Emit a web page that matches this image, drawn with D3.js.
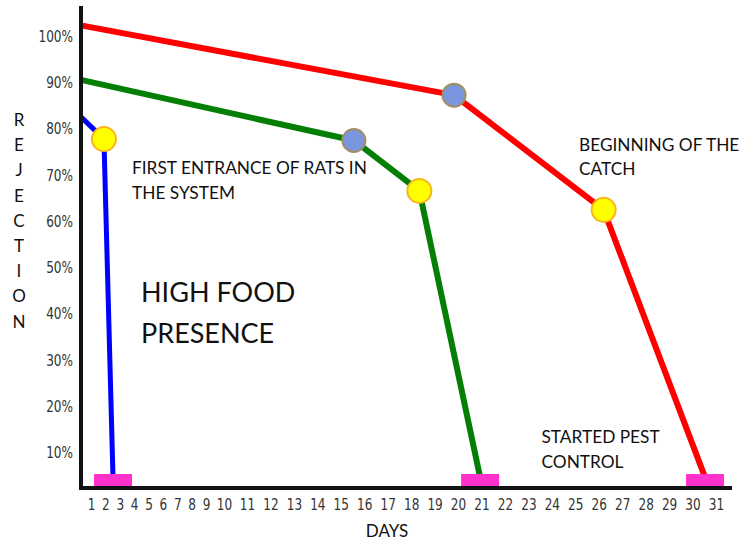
<!DOCTYPE html>
<html>
<head>
<meta charset="utf-8">
<script src="https://cdn.jsdelivr.net/npm/d3@7"></script>
<style>
  html, body { margin: 0; padding: 0; background: #fff; }
  svg { display: block; }
</style>
</head>
<body>
<svg id="chart" width="740" height="540"></svg>
<script>
// ---------- data ----------
const days = d3.range(1, 32);                       // x tick labels 1..31
const yTicks = [10, 20, 30, 40, 50, 60, 70, 80, 90, 100];

// three series: [day, rejection %]
const redSeries   = [[0.3, 102.2], [19.83, 87.1], [26.21, 62.3], [30.53, 4.5]];
const greenSeries = [[0.3, 90.4],  [15.56, 77.3], [18.35, 66.4], [20.94, 4.5]];
const blueSeries  = [[0.3, 82.4],  [1.9, 77.6],   [2.53, 4.5]];

// markers: blue = rats enter, yellow = catch begins
const blueMarkers   = [[19.83, 87.1], [15.56, 77.3]];
const yellowMarkers = [[26.21, 62.3], [18.35, 66.4], [1.9, 77.6]];
// pest control start (pink bars) at days
const pestControlDays = [2.53, 20.94, 30.53];

const annotations = [
  { lines: ["FIRST ENTRANCE OF RATS IN", "THE SYSTEM"], big: false, anchor: [132, 174] },
  { lines: ["BEGINNING OF THE", "CATCH"], big: false, anchor: [579, 150.5] },
  { lines: ["STARTED PEST", "CONTROL"], big: false, anchor: [541.5, 443] },
  { lines: ["HIGH FOOD", "PRESENCE"], big: true, anchor: [141, 302] }
];
const yTitle = "REJECTION";
const xTitle = "DAYS";

// ---------- scales ----------
// labels of the x axis are packed (single digits narrower than double digits)
const x = d3.scaleLinear().domain([1, 9, 10, 11, 31]).range([91, 206, 224, 247, 716]);
const y = d3.scaleLinear().domain([0, 100]).range([498, 35.5]);

const svg = d3.select("#chart");
const axisX = 81, axisY = 488;

// ---------- lines ----------
const line = d3.line().x(d => x(d[0])).y(d => y(d[1]));
const series = [
  { data: redSeries, color: "#ff0000", w: 6 },
  { data: greenSeries, color: "#038003", w: 6 },
  { data: blueSeries, color: "#0000ff", w: 5 }
];
svg.append("g").selectAll("path").data(series).join("path")
  .attr("d", d => line(d.data))
  .attr("fill", "none")
  .attr("stroke", d => d.color)
  .attr("stroke-width", d => d.w)
  .attr("stroke-linejoin", "round");

// lines start at the axis: mask whatever falls left of it
svg.append("rect").attr("x", 0).attr("y", 0).attr("width", axisX).attr("height", 500).attr("fill", "#fff");

// ---------- pink bars ----------
svg.append("g").selectAll("rect").data(pestControlDays).join("rect")
  .attr("x", d => x(d) - 19)
  .attr("y", axisY - 14)
  .attr("width", 38)
  .attr("height", 12)
  .attr("fill", "#ff33cc");

// ---------- axes ----------
svg.append("line").attr("x1", axisX).attr("x2", axisX).attr("y1", 6).attr("y2", axisY + 2)
  .attr("stroke", "#111").attr("stroke-width", 4);
svg.append("line").attr("x1", axisX - 2).attr("x2", 732).attr("y1", axisY).attr("y2", axisY)
  .attr("stroke", "#111").attr("stroke-width", 4);

const tickFont = "'DejaVu Sans Condensed', 'DejaVu Sans', sans-serif";
const squeeze = 0.84;

const yAxis = svg.append("g").attr("transform", `translate(${axisX},0)`)
  .call(d3.axisLeft(y).tickValues(yTicks).tickSize(0).tickPadding(8).tickFormat(d => d + "%"));
yAxis.select(".domain").remove();
yAxis.selectAll("text")
  .attr("x", 0)
  .attr("transform", `translate(-8,0) scale(${squeeze},1)`)
  .attr("font-family", tickFont)
  .attr("font-size", 16).attr("fill", "#333").attr("dy", "0.36em");

const xAxis = svg.append("g").attr("transform", `translate(0,${axisY})`)
  .call(d3.axisBottom(x).tickValues(days).tickSize(0).tickPadding(11).tickFormat(d3.format("d")));
xAxis.select(".domain").remove();
xAxis.selectAll("text")
  .attr("transform", `scale(${squeeze},1)`)
  .attr("font-family", tickFont)
  .attr("font-size", 16).attr("fill", "#333");

// ---------- markers ----------
svg.append("g").selectAll("circle").data(blueMarkers).join("circle")
  .attr("cx", d => x(d[0])).attr("cy", d => y(d[1])).attr("r", 11.5)
  .attr("fill", "#7a96de").attr("stroke", "#a28f62").attr("stroke-width", 2);
svg.append("g").selectAll("circle").data(yellowMarkers).join("circle")
  .attr("cx", d => x(d[0])).attr("cy", d => y(d[1])).attr("r", 12)
  .attr("fill", "#ffff00").attr("stroke", "#f7b619").attr("stroke-width", 2);

// ---------- texts ----------
const font = "Lato, 'Open Sans', sans-serif";
annotations.forEach(a => {
  const t = svg.append("text")
    .attr("font-family", font)
    .attr("font-size", a.big ? 27 : 17.3)
    .attr("fill", "#111");
  a.lines.forEach((l, i) => {
    t.append("tspan").attr("x", a.anchor[0]).attr("y", a.anchor[1] + i * (a.big ? 41 : 24.5)).text(l);
  });
});

svg.append("g").selectAll("text").data(yTitle.split("")).join("text")
  .attr("x", 19).attr("y", (d, i) => 126 + i * 25.2)
  .attr("text-anchor", "middle")
  .attr("font-family", font).attr("font-size", 17).attr("fill", "#111")
  .text(d => d);

svg.append("text").attr("x", 387).attr("y", 537).attr("text-anchor", "middle")
  .attr("font-family", font).attr("font-size", 17).attr("fill", "#111").text(xTitle);
</script>
</body>
</html>
